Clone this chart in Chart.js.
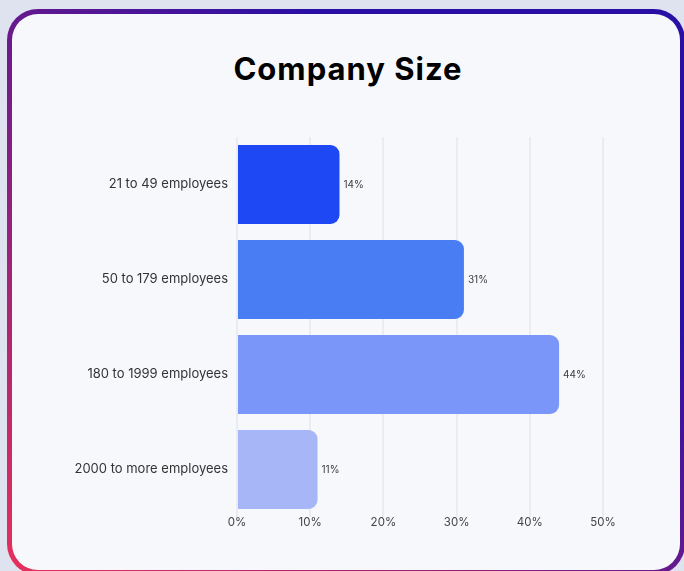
<!DOCTYPE html>
<html>
<head>
<meta charset="utf-8">
<script src="https://cdn.jsdelivr.net/npm/chart.js@4.4.1/dist/chart.umd.min.js"></script>
<style>
  html, body { margin: 0; padding: 0; }
  body { width: 684px; height: 571px; background: #dfe2ef; position: relative; overflow: hidden; }
  .card {
    position: absolute; left: 7px; top: 9px; width: 678px; height: 566px;
    border-radius: 31px; padding: 5px; box-sizing: border-box;
    background: linear-gradient(to top right, #e8305a 0%, #2a0fa5 72%);
  }
  .card-inner { width: 100%; height: 100%; border-radius: 26px; background: #f6f8fc; }
  h1 {
    position: absolute; left: 0; top: 50px; width: 696px; margin: 0;
    text-align: center; font: 700 31px Inter, "Open Sans", sans-serif;
    letter-spacing: 1px; color: #000;
  }
  #wrap { position: absolute; left: 0; top: 0; width: 684px; height: 571px; }
</style>
</head>
<body>
<div class="card"><div class="card-inner"></div></div>
<h1>Company Size</h1>
<div id="wrap"><canvas id="sizeChart" width="684" height="571"></canvas></div>
<script>
// company size breakdown, percent of respondents
const categories = ["21 to 49 employees", "50 to 179 employees", "180 to 1999 employees", "2000 to more employees"];
const shares = [14, 31, 44, 11];
const barColors = ["#1f48f5", "#487df3", "#7a96f8", "#a6b6f7"];
const tickValues = [0, 10, 20, 30, 40, 50];

const FONT = "Inter, 'Open Sans', sans-serif";

// writes "NN%" just past the end of each bar
const valueLabels = {
  id: "valueLabels",
  afterDatasetsDraw(chart) {
    const ctx = chart.ctx;
    const meta = chart.getDatasetMeta(0);
    ctx.save();
    ctx.font = "10px " + FONT;
    ctx.fillStyle = "#3b3b3b";
    ctx.textAlign = "left";
    ctx.textBaseline = "middle";
    meta.data.forEach((bar, i) => {
      ctx.fillText(shares[i] + "%", bar.x + 4, bar.y);
    });
    ctx.restore();
  },
};

new Chart(document.getElementById("sizeChart"), {
  type: "bar",
  data: {
    labels: categories,
    datasets: [
      {
        data: shares,
        backgroundColor: barColors,
        borderRadius: 9,
        borderSkipped: "start",
        categoryPercentage: 1,
        barPercentage: 0.83,
      },
    ],
  },
  options: {
    indexAxis: "y",
    responsive: false,
    animation: false,
    layout: { padding: { left: 0, right: 81, top: 137, bottom: 34 } },
    plugins: {
      legend: { display: false },
      tooltip: { enabled: false },
    },
    scales: {
      x: {
        min: 0,
        max: 50,
        afterBuildTicks: (s) => { s.ticks = tickValues.map((v) => ({ value: v })); },
        afterFit: (s) => { s.height = 20; },
        grid: { color: "#ebecf1", lineWidth: 2, drawTicks: false },
        border: { display: false },
        ticks: {
          padding: -1,
          color: "#444",
          font: { family: FONT, size: 11.5 },
          callback: (v) => v + "%",
        },
      },
      y: {
        afterFit: (s) => { s.width = 237; },
        grid: { display: false, drawTicks: false },
        border: { display: false },
        ticks: {
          padding: 9,
          color: "#333",
          font: { family: FONT, size: 13 },
        },
      },
    },
  },
  plugins: [valueLabels],
});
</script>
</body>
</html>
